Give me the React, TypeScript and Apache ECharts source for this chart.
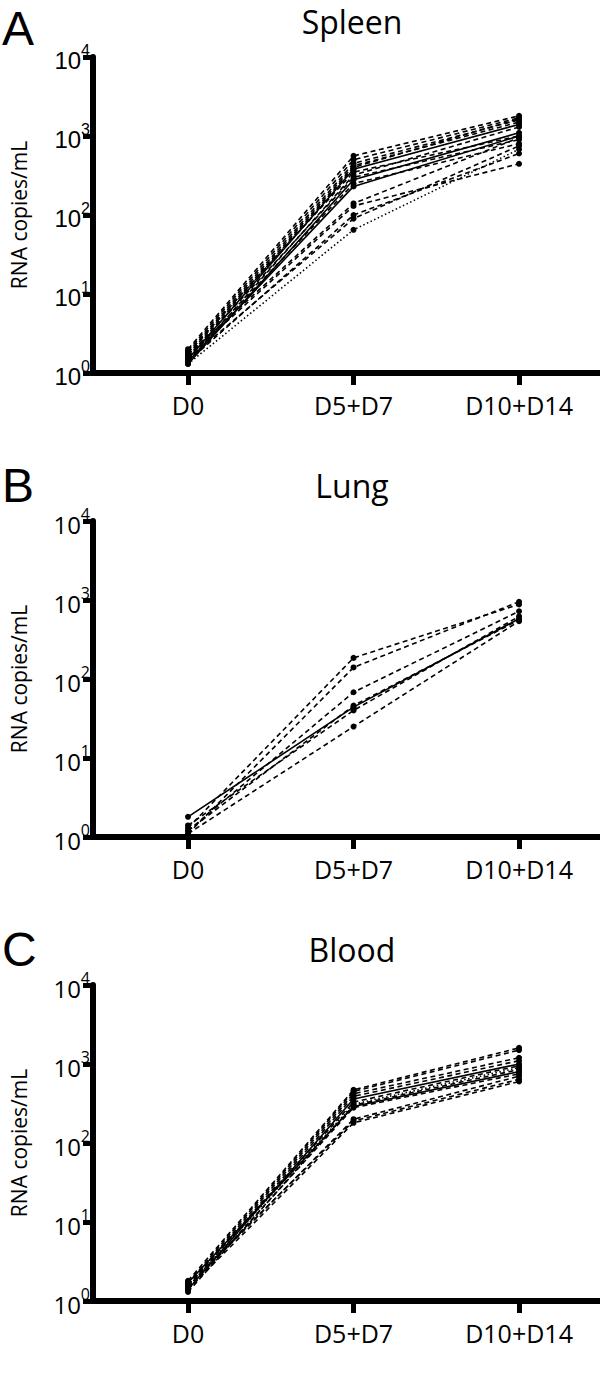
import React, { useEffect, useRef } from "react";
import * as echarts from "echarts";

const categories = ["D0", "D5+D7", "D10+D14"];
const categoryPos = [0, 1, 2];

const spleenD0 = [2.0, 1.9, 1.8, 1.7, 1.6, 1.5, 1.8, 1.4, 1.6, 1.3, 1.5, 1.4, 1.7, 1.6, 1.4, 1.5, 1.3];
const spleenD5D7 = [560, 500, 450, 420, 400, 380, 350, 320, 300, 280, 250, 230, 140, 130, 100, 90, 65];
const spleenD10D14 = [1800, 1700, 1600, 1500, 1650, 1400, 1000, 1300, 900, 1100, 800, 1000, 950, 445, 600, 750, 680];
const spleenStyles = ["dash", "dash", "dash", "dash", "dash", "solid", "dash", "dash", "dash", "solid", "dash", "solid", "dash", "dash", "dash", "dash", "dot"];

const lungD0 = [1.3, 1.1, 1.2, 1.8, 1.4, 1.1, 1.2];
const lungD5D7 = [185, 140, 68, 44, 40, 25, 46];
const lungD10D14 = [880, 950, 720, 580, 620, 540, 560];
const lungStyles = ["dash", "dash", "dash", "solid", "dash", "dash", "dash"];

const bloodD0 = [1.8, 1.7, 1.6, 1.5, 1.4, 1.6, 1.5, 1.3, 1.7, 1.4, 1.5, 1.6, 1.4];
const bloodD5D7 = [470, 450, 420, 390, 360, 330, 310, 300, 290, 280, 200, 190, 180];
const bloodD10D14 = [1600, 1500, 1200, 1100, 1000, 950, 900, 850, 800, 750, 700, 640, 600];
const bloodStyles = ["dash", "dash", "dash", "dash", "solid", "dash", "dot", "dash", "solid", "dash", "dash", "dash", "dash"];

const panels = [
  { letter: "A", title: "Spleen", d0: spleenD0, d5: spleenD5D7, d10: spleenD10D14, styles: spleenStyles, top: 57 },
  { letter: "B", title: "Lung", d0: lungD0, d5: lungD5D7, d10: lungD10D14, styles: lungStyles, top: 521 },
  { letter: "C", title: "Blood", d0: bloodD0, d5: bloodD5D7, d10: bloodD10D14, styles: bloodStyles, top: 985 },
];

const GRID_LEFT = 93;
const GRID_H = 316;
const X_MIN = -0.574;
const X_MAX = 2.489;
const FONT = "'Open Sans', 'Noto Sans', sans-serif";
const LETTER_FONT = "'Liberation Sans', Arial, sans-serif";

function lineType(s: string): any {
  if (s === "solid") return "solid";
  if (s === "dot") return [1.5, 2.5];
  return [5, 3.5];
}

export default function App() {
  const ref = useRef<HTMLDivElement>(null);
  useEffect(() => {
    if (!ref.current) return;
    const chart = echarts.init(ref.current, undefined, { renderer: "svg" });
    const grids: any[] = [];
    const xAxes: any[] = [];
    const yAxes: any[] = [];
    const series: any[] = [];
    const graphics: any[] = [];
    panels.forEach((p, pi) => {
      grids.push({ left: GRID_LEFT, right: 0, top: p.top, height: GRID_H });
      xAxes.push({
        type: "value",
        gridIndex: pi,
        min: X_MIN,
        max: X_MAX,
        splitLine: { show: false },
        axisLine: { show: true, onZero: false, lineStyle: { color: "#000", width: 6 } },
        axisTick: { show: true, customValues: categoryPos, length: 12, lineStyle: { color: "#000", width: 5 } },
        axisLabel: {
          customValues: categoryPos,
          formatter: (v: number) => categories[Math.round(v)] ?? "",
          color: "#000",
          fontSize: 25,
          fontFamily: FONT,
          margin: 19,
        },
      });
      yAxes.push({
        type: "log",
        logBase: 10,
        gridIndex: pi,
        min: 1,
        max: 10000,
        name: "RNA copies/mL",
        nameLocation: "middle",
        nameRotate: 90,
        nameGap: 64,
        nameTextStyle: { color: "#000", fontSize: 21, fontFamily: FONT },
        axisLine: { show: true, onZero: false, lineStyle: { color: "#000", width: 6 } },
        axisTick: { show: true, length: 10, lineStyle: { color: "#000", width: 5 } },
        splitLine: { show: false },
        axisLabel: {
          margin: 3,
          formatter: (v: number) => `{b|10}{s|${Math.round(Math.log10(v))}}`,
          rich: {
            b: { fontSize: 24, fontFamily: pi === 0 ? "'Liberation Sans', Arial, sans-serif" : FONT, color: "#000", verticalAlign: "bottom", lineHeight: 30 },
            s: { fontSize: 16, fontFamily: pi === 0 ? "'Liberation Sans', Arial, sans-serif" : FONT, color: "#000", verticalAlign: "top", lineHeight: 30 },
          },
        },
      });
      p.d0.forEach((_, i) => {
        series.push({
          type: "line",
          xAxisIndex: pi,
          yAxisIndex: pi,
          data: [
            [categoryPos[0], p.d0[i]],
            [categoryPos[1], p.d5[i]],
            [categoryPos[2], p.d10[i]],
          ],
          symbol: "circle",
          symbolSize: 6,
          itemStyle: { color: "#000" },
          lineStyle: { color: "#000", width: 1.6, type: lineType(p.styles[i]) },
          silent: true,
        });
      });
      graphics.push({
        type: "text",
        x: 2,
        y: pi === 0 ? 28 : p.top - 36,
        style: { text: p.letter, fontSize: 48, lineHeight: 48, fontFamily: LETTER_FONT, fill: "#000", textVerticalAlign: "middle" },
      });
      graphics.push({
        type: "text",
        x: 352,
        y: p.top - 36,
        style: { text: p.title, fontSize: 32, fontFamily: FONT, fill: "#000", textAlign: "center", textVerticalAlign: "middle" },
      });
    });
    chart.setOption({
      animation: false,
      backgroundColor: "#fff",
      grid: grids,
      xAxis: xAxes,
      yAxis: yAxes,
      series,
      graphic: graphics,
    });
    return () => chart.dispose();
  }, []);
  return <div ref={ref} style={{ position: "absolute", left: 0, top: 0, width: 600, height: 1386 }} />;
}
